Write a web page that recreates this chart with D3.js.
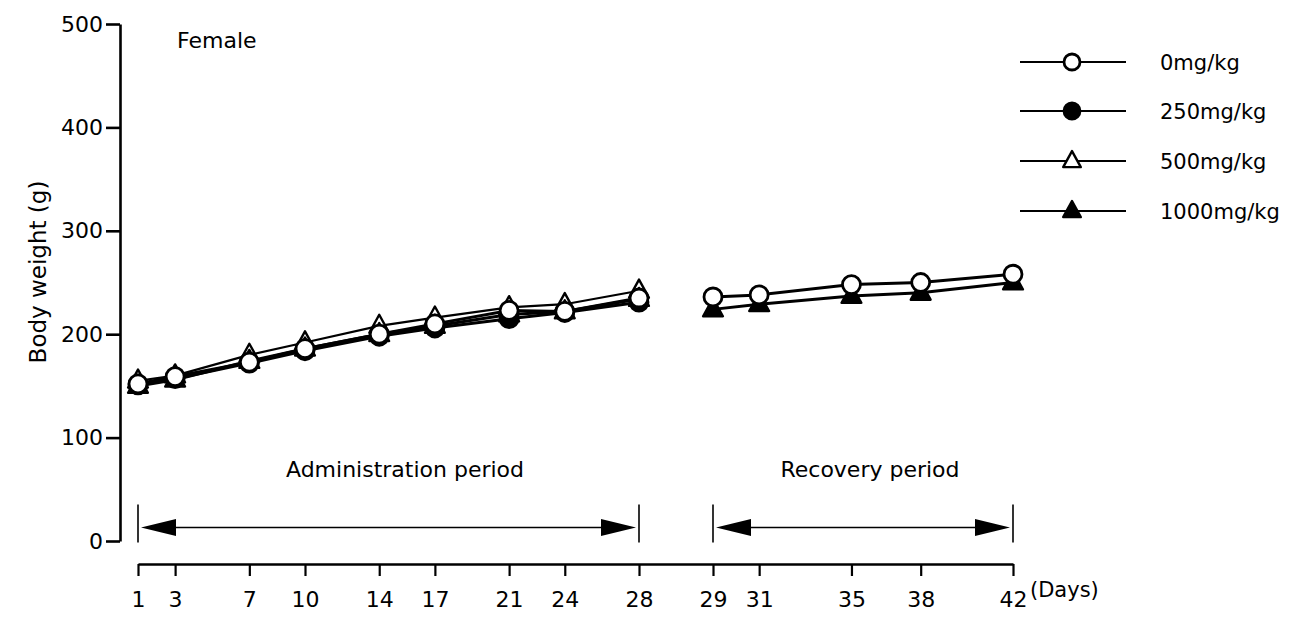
<!DOCTYPE html>
<html>
<head>
<meta charset="utf-8">
<script src="https://cdn.jsdelivr.net/npm/d3@7"></script>
<style>
  html, body { margin: 0; padding: 0; background: #fff; }
  svg { display: block; }
  text { font-family: "DejaVu Sans", "Liberation Sans", Arial, sans-serif; fill: #000; }
</style>
</head>
<body>
<svg id="chart" width="1295" height="619"></svg>
<script>
// ---- data ----
const days = [1, 3, 7, 10, 14, 17, 21, 24, 28, 29, 31, 35, 38, 42];
const yTicks = [0, 100, 200, 300, 400, 500];
const seriesNames = ["0mg/kg", "250mg/kg", "500mg/kg", "1000mg/kg"];
const dose0    = [152, 159, 173, 186, 200, 210, 223, 222, 235, 236, 238, 248, 250, 258];
const dose250  = [151, 157, 172, 184, 198, 206, 215, 221, 231, null, null, null, null, null];
const dose500  = [155, 160, 180, 192, 208, 216, 226, 229, 242, null, null, null, null, null];
const dose1000 = [150, 156, 174, 186, 200, 208, 219, 222, 234, 224, 229, 237, 240, 250];
const periods = [
  { name: "Administration period", start: 1, end: 28 },
  { name: "Recovery period", start: 29, end: 42 }
];

// ---- layout ----
const svg = d3.select("#chart");
const x = d3.scaleLinear().domain([1, 28, 29, 42]).range([138, 639, 713, 1013]);
const y = d3.scaleLinear().domain([0, 500]).range([541, 24]);
const FS = 22;

// y axis
const yAxis = svg.append("g").attr("transform", "translate(120,0)")
  .call(d3.axisLeft(y).tickValues(yTicks).tickSize(14).tickSizeOuter(0).tickPadding(3));
yAxis.select(".domain").attr("stroke", "#000").attr("stroke-width", 2.6);
yAxis.selectAll(".tick line").attr("stroke", "#000").attr("stroke-width", 2.6);
yAxis.selectAll(".tick text").attr("font-size", FS);

// x axis
const xAxis = svg.append("g").attr("transform", "translate(0,564)")
  .call(d3.axisBottom(x).tickValues(days).tickFormat(d3.format("d")).tickSize(12).tickSizeOuter(0).tickPadding(15));
xAxis.select(".domain").attr("stroke", "#000").attr("stroke-width", 2.6);
xAxis.selectAll(".tick line").attr("stroke", "#000").attr("stroke-width", 2.2);
xAxis.selectAll(".tick text").attr("font-size", FS);

svg.append("text").attr("x", 1030).attr("y", 597).attr("font-size", 21).text("(Days)");

// y label
svg.append("text")
  .attr("transform", "translate(46,272) rotate(-90)")
  .attr("text-anchor", "middle").attr("font-size", 23)
  .text("Body weight (g)");

svg.append("text").attr("x", 177).attr("y", 48).attr("font-size", FS).text("Female");

// period arrows
const arrowY = y(13);
const pg = svg.append("g");
periods.forEach((p, i) => {
  const x0 = x(p.start), x1 = x(p.end);
  pg.append("line").attr("x1", x0).attr("x2", x0).attr("y1", arrowY - 23).attr("y2", arrowY + 15)
    .attr("stroke", "#000").attr("stroke-width", 1.6);
  pg.append("line").attr("x1", x1).attr("x2", x1).attr("y1", arrowY - 23).attr("y2", arrowY + 15)
    .attr("stroke", "#000").attr("stroke-width", 1.6);
  pg.append("line").attr("x1", x0 + 20).attr("x2", x1 - 20).attr("y1", arrowY).attr("y2", arrowY)
    .attr("stroke", "#000").attr("stroke-width", 1.6);
  pg.append("path").attr("d", `M${x0 + 3},${arrowY} L${x0 + 38},${arrowY - 8.5} L${x0 + 38},${arrowY + 8.5} Z`).attr("fill", "#000");
  pg.append("path").attr("d", `M${x1 - 3},${arrowY} L${x1 - 38},${arrowY - 8.5} L${x1 - 38},${arrowY + 8.5} Z`).attr("fill", "#000");
  pg.append("text").attr("x", i === 0 ? 405 : 870).attr("y", 477).attr("text-anchor", "middle")
    .attr("font-size", FS).text(p.name);
});

// ---- series ----
const series = [
  { name: seriesNames[2], vals: dose500,  shape: "tri",    fill: "#fff", lw: 2.2 },
  { name: seriesNames[1], vals: dose250,  shape: "circle", fill: "#000", lw: 3 },
  { name: seriesNames[3], vals: dose1000, shape: "tri",    fill: "#000", lw: 3 },
  { name: seriesNames[0], vals: dose0,    shape: "circle", fill: "#fff", lw: 3 }
];
const line = d3.line().x(d => x(d.day)).y(d => y(d.v));
const triPath = (s) => `M0,${-s * 0.62} L${s * 0.55},${s * 0.38} L${-s * 0.55},${s * 0.38} Z`;

const lg = svg.append("g");
series.forEach(s => {
  const pts = days.map((d, i) => ({ day: d, v: s.vals[i] })).filter(p => p.v != null);
  periods.forEach(p => {
    const seg = pts.filter(q => q.day >= p.start && q.day <= p.end);
    if (seg.length > 1) {
      lg.append("path").attr("d", line(seg)).attr("fill", "none")
        .attr("stroke", "#000").attr("stroke-width", s.lw);
    }
  });
});
const mg = svg.append("g");
function drawMarker(g, shape, fill, cx, cy, size) {
  if (shape === "circle") {
    g.append("circle").attr("cx", cx).attr("cy", cy).attr("r", size / 2)
      .attr("fill", fill).attr("stroke", "#000").attr("stroke-width", 2.8);
  } else {
    g.append("path").attr("d", triPath(size)).attr("transform", `translate(${cx},${cy})`)
      .attr("fill", fill).attr("stroke", "#000").attr("stroke-width", 2.4).attr("stroke-linejoin", "round");
  }
}
series.forEach(s => {
  days.forEach((d, i) => {
    if (s.vals[i] != null) drawMarker(mg, s.shape, s.fill, x(d), y(s.vals[i]), 18);
  });
});

// ---- legend ----
const legendOrder = [3, 1, 0, 2];
const legendY = [62, 111, 161, 211];
const leg = svg.append("g");
legendOrder.forEach((si, k) => {
  const s = series[si];
  const ly = legendY[k];
  leg.append("line").attr("x1", 1020).attr("x2", 1126).attr("y1", ly).attr("y2", ly)
    .attr("stroke", "#000").attr("stroke-width", 2.2);
  drawMarker(leg, s.shape, s.fill, 1072, ly, 16);
  leg.append("text").attr("x", 1160).attr("y", ly + 8).attr("font-size", 21).text(s.name);
});
</script>
</body>
</html>
